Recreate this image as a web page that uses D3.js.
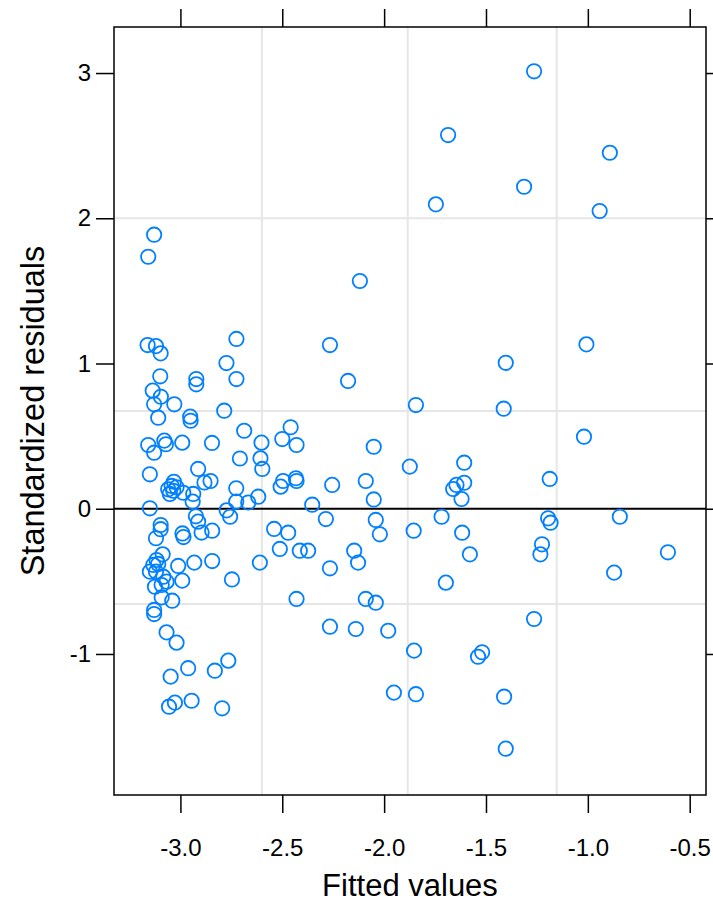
<!DOCTYPE html>
<html>
<head>
<meta charset="utf-8">
<script src="https://cdn.jsdelivr.net/npm/d3@7"></script>
<style>
  html, body { margin: 0; padding: 0; background: #fff; }
  svg { display: block; }
  text { font-family: "Liberation Sans", Arial, sans-serif; fill: #000; }
</style>
</head>
<body>
<svg id="chart" width="713" height="906"></svg>
<script>
// ---- data ----
const fitted = [
  -3.129, -3.158, -3.161, -3.120, -3.097, -3.099, -3.136, -3.096, -3.129, -3.030,
  -3.109, -3.079, -3.071, -3.158, -3.129, -3.150, -3.032, -3.043, -3.060, -3.035,
  -3.052, -3.019, -3.150, -3.097, -3.097, -3.120, -3.087, -3.117, -3.109, -3.133,
  -3.150, -3.120, -3.084, -3.011, -3.125, -3.092, -3.068, -3.092, -3.040, -3.129,
  -3.129, -3.068, -3.019, -3.048, -3.027, -3.056,
  -2.962, -2.831, -2.765, -2.945, -2.795,
  -2.991, -2.986, -2.990, -2.985, -2.991, -2.952, -2.950, -2.922, -2.922, -2.937,
  -2.940, -2.924, -2.913, -2.896, -2.913, -2.932, -2.882, -2.852, -2.845, -2.844,
  -2.844, -2.785, -2.774, -2.725, -2.725, -2.687, -2.708, -2.726, -2.726, -2.773,
  -2.756, -2.667, -2.618, -2.747, -2.610, -2.602, -2.607, -2.598,
  -2.540, -2.512, -2.471, -2.496, -2.508, -2.459, -2.500, -2.430, -2.433, -2.430,
  -2.414, -2.373, -2.430, -2.353, -2.286, -2.266, -2.266, -2.266, -2.255, -2.177,
  -2.147, -2.128, -2.139, -2.119, -2.090, -2.090, -2.051, -2.051, -2.041, -2.021,
  -2.041, -1.980, -1.952,
  -1.874, -1.855, -1.853, -1.844, -1.844, -1.746, -1.718, -1.697, -1.686, -1.661,
  -1.645, -1.607, -1.620, -1.607, -1.617, -1.579, -1.539, -1.519, -1.413, -1.403,
  -1.411, -1.403, -1.313, -1.264, -1.264, -1.233, -1.225, -1.195, -1.183, -1.187,
  -1.019, -1.007, -0.942, -0.892, -0.871, -0.843, -0.607
];
const residuals = [
   1.887,  1.735,  1.127,  1.120,  1.070,  0.912,  0.813,  0.771,  0.719,  0.719,
   0.627,  0.469,  0.444,  0.439,  0.386,  0.237,  0.186,  0.157,  0.134,  0.124,
   0.102,  0.148,  0.003, -0.112, -0.141, -0.203, -0.314, -0.353, -0.380, -0.387,
  -0.433, -0.433, -0.468, -0.394, -0.537, -0.525, -0.502, -0.610, -0.633, -0.697,
  -0.725, -0.851, -0.922, -1.156, -1.335, -1.363,
  -1.098, -1.115, -1.046, -1.322, -1.374,
   0.455,  0.110, -0.170, -0.195, -0.495,  0.634,  0.606,  0.893,  0.857,  0.102,
   0.049, -0.052, -0.089, -0.164,  0.274, -0.371,  0.181,  0.191,  0.453, -0.151,
  -0.360,  0.675,  1.003,  1.169,  0.893,  0.537,  0.346,  0.141,  0.049, -0.011,
  -0.055,  0.043,  0.083, -0.487, -0.371,  0.455,  0.347,  0.274,
  -0.139, -0.277, -0.165,  0.191,  0.152,  0.561,  0.480,  0.439,  0.210,  0.191,
  -0.289, -0.289, -0.621,  0.028, -0.071,  1.127, -0.410, -0.812,  0.164,  0.880,
  -0.289, -0.371, -0.828,  1.568,  0.191, -0.621,  0.427,  0.064, -0.077, -0.176,
  -0.647, -0.840, -1.266,
   0.290, -0.151, -0.977,  0.714, -1.277,  2.096, -0.055, -0.509,  2.573,  0.136,
   0.164,  0.179,  0.067,  0.317, -0.165, -0.314, -1.019, -0.988,  0.689,  1.005,
  -1.294, -1.652,  2.217,  3.012, -0.759, -0.314, -0.245, -0.066, -0.096,  0.205,
   0.496,  1.132,  2.050,  2.451, -0.440, -0.055, -0.300
];
const xTicks = [-3.0, -2.5, -2.0, -1.5, -1.0, -0.5];
const yTicks = [-1, 0, 1, 2, 3];
const xGrid = [-2.60, -1.884, -1.153];
const yGrid = [2.0, 0.673, -0.656];
const xLabel = "Fitted values";
const yLabel = "Standardized residuals";

// ---- layout ----
const L = 114, R = 706, T = 27, B = 795;
const svg = d3.select("#chart");
const x = d3.scaleLinear().domain([-3.326, -0.42]).range([L, R]);
const y = d3.scaleLinear().domain([-1.971, 3.317]).range([B, T]);

// grid
svg.append("g").selectAll("line").data(xGrid).join("line")
  .attr("x1", d => x(d)).attr("x2", d => x(d)).attr("y1", T).attr("y2", B)
  .attr("stroke", "#e6e6e6").attr("stroke-width", 2);
svg.append("g").selectAll("line").data(yGrid).join("line")
  .attr("y1", d => y(d)).attr("y2", d => y(d)).attr("x1", L).attr("x2", R)
  .attr("stroke", "#e6e6e6").attr("stroke-width", 2);

// zero line
svg.append("line").attr("x1", L).attr("x2", R).attr("y1", y(0)).attr("y2", y(0))
  .attr("stroke", "#000").attr("stroke-width", 2);

// points
const pts = fitted.map((f, i) => ({ f, r: residuals[i] }));
svg.append("g").selectAll("circle").data(pts).join("circle")
  .attr("cx", d => x(d.f)).attr("cy", d => y(d.r)).attr("r", 7.2)
  .attr("fill", "none").attr("stroke", "#0080ff").attr("stroke-width", 1.8);

// axes (ticks on all four sides, labels on bottom/left)
const tk = 18;
const axB = d3.axisBottom(x).tickValues(xTicks).tickFormat(d => d.toFixed(1)).tickSizeInner(tk).tickSizeOuter(0).tickPadding(26);
const axT = d3.axisTop(x).tickValues(xTicks).tickFormat("").tickSizeInner(tk).tickSizeOuter(0);
const axLf = d3.axisLeft(y).tickValues(yTicks).tickFormat(d => String(d)).tickSizeInner(tk).tickSizeOuter(0).tickPadding(5);
const axRt = d3.axisRight(y).tickValues(yTicks).tickFormat("").tickSizeInner(tk).tickSizeOuter(0);

function style(g) {
  g.select(".domain").remove();
  g.selectAll("line").attr("stroke", "#000").attr("stroke-width", 1.5);
  g.selectAll("text").style("font-family", "'Liberation Sans', Arial, sans-serif")
    .style("font-size", "24px").attr("fill", "#000");
}
svg.append("g").attr("transform", `translate(0,${B})`).call(axB).call(style);
svg.append("g").attr("transform", `translate(0,${T})`).call(axT).call(style);
svg.append("g").attr("transform", `translate(${L},0)`).call(axLf).call(style);
svg.append("g").attr("transform", `translate(${R},0)`).call(axRt).call(style);

// box
svg.append("rect").attr("x", L).attr("y", T).attr("width", R - L).attr("height", B - T)
  .attr("fill", "none").attr("stroke", "#000").attr("stroke-width", 1.5);

// axis titles
svg.append("text").attr("x", (L + R) / 2).attr("y", 896).attr("text-anchor", "middle")
  .style("font-size", "31px").text(xLabel);
svg.append("text").attr("transform", `translate(44,${(T + B) / 2}) rotate(-90)`)
  .attr("text-anchor", "middle").style("font-size", "32.5px").text(yLabel);
</script>
</body>
</html>
